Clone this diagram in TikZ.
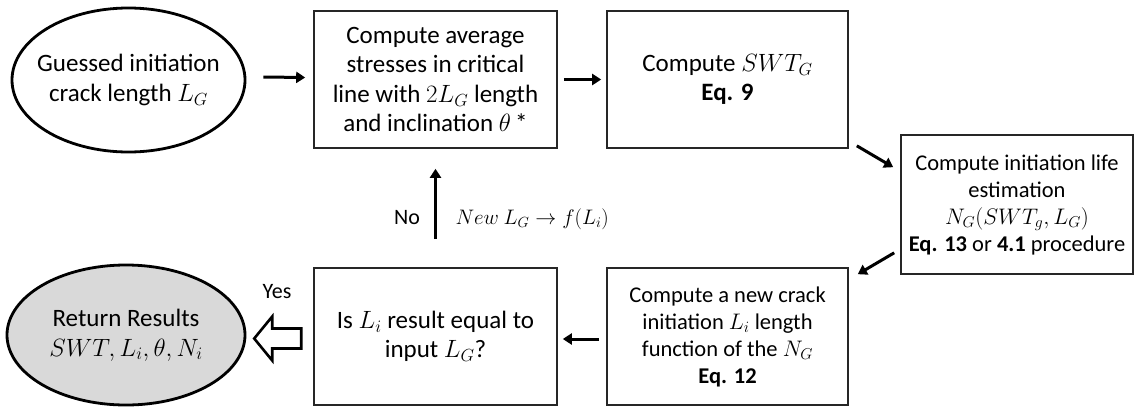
\RequirePackage{fix-cm}
\documentclass[tikz,border=0pt]{standalone}
\usepackage{fontspec}
\setmainfont{Carlito}
\usetikzlibrary{arrows.meta,shapes.geometric}
\begin{document}
\begin{tikzpicture}[x=1pt,y=-1pt,
  big/.style={font=\fontsize{25}{29.5}\selectfont},
  small/.style={font=\fontsize{22.5}{27}\selectfont},
  stepbox/.style={draw=black!85,line width=1.6pt,align=center,inner sep=0pt},
  oval/.style={ellipse,draw=black,line width=2.8pt,inner sep=0pt},
  ovaltext/.style={big,align=center,inner sep=0pt},
  arr/.style={line width=3pt,-{Triangle[length=9pt,width=11pt]}},
  lbl/.style={font=\fontsize{22}{26}\selectfont}
]
\useasboundingbox (0,0) rectangle (1137,410);

% terminal ovals (fixed size, caption placed on top)
\node[oval,minimum width=233pt,minimum height=144pt] (start) at (128.5,80) {};
\node[ovaltext] (starttxt) at (start.center) {Guessed initiation\\crack length $L_G$};
\node[oval,fill=black!15,minimum width=238pt,minimum height=140pt] (result) at (126,335) {};
\node[ovaltext] (resulttxt) at (result.center) {Return Results\\$SWT, L_i, \theta, N_i$};

% process boxes
\node[stepbox,big,minimum width=243pt,minimum height=137pt] (avg) at (435.5,79.5)
  {Compute average\\stresses in critical\\line with $2L_G$ length\\and inclination $\theta$\,*};
\node[stepbox,big,minimum width=241pt,minimum height=137pt] (swt) at (727.5,79.5)
  {Compute $SWT_G$\\\textbf{Eq. 9}};
\node[stepbox,small,minimum width=232pt,minimum height=139pt] (life) at (1017,204.5)
  {Compute initiation life\\estimation\\$N_G\bigl(SWT_g, L_G\bigr)$\\\textbf{Eq. 13} or \textbf{4.1} procedure};
\node[stepbox,small,minimum width=241pt,minimum height=137pt] (newlen) at (727.5,336.5)
  {Compute a new crack\\initiation $L_i$ length\\function of the $N_G$\\\textbf{Eq. 12}};
\node[stepbox,big,minimum width=243pt,minimum height=137pt] (check) at (435.5,336.5)
  {Is $L_i$ result equal to\\input $L_G$?};

% flow connectors
\draw[arr] ([shift={(17,-3)}]start.east) -- ([shift={(-8,-2)}]avg.west);
\draw[arr] ([shift={(6,0)}]avg.east) -- ([shift={(-5,0)}]swt.west);
\draw[arr] ([shift={(8,-3)}]swt.south east) -- ([shift={(-7,33)}]life.north west);
\draw[arr] ([shift={(-6,-22)}]life.south west) -- ([shift={(9,7)}]newlen.north east);
\draw[arr] ([shift={(-7,2.5)}]newlen.west) -- ([shift={(5,2.5)}]check.east);
\draw[arr] ([shift={(0,-28)}]check.north) -- ([shift={(0,20)}]avg.south);

% hollow "yes" arrow
\draw[line width=2.6pt,fill=white,line join=miter]
  ([shift={(-12,-8)}]check.west) -- ([shift={(-41,-8)}]check.west)
  -- ([shift={(-41,-20)}]check.west) -- ([shift={(-59,2)}]check.west)
  -- ([shift={(-41,24)}]check.west) -- ([shift={(-41,12)}]check.west)
  -- ([shift={(-12,12)}]check.west) -- cycle;

% labels
\node[lbl] (yes) at (277,292) {Yes};
\node[lbl] (no) at (407,218) {No};
\node[font=\fontsize{21}{25}\selectfont,anchor=west] (newlg) at (452,219) {$New\ L_G \rightarrow f(L_i)$};
\end{tikzpicture}
\end{document}
